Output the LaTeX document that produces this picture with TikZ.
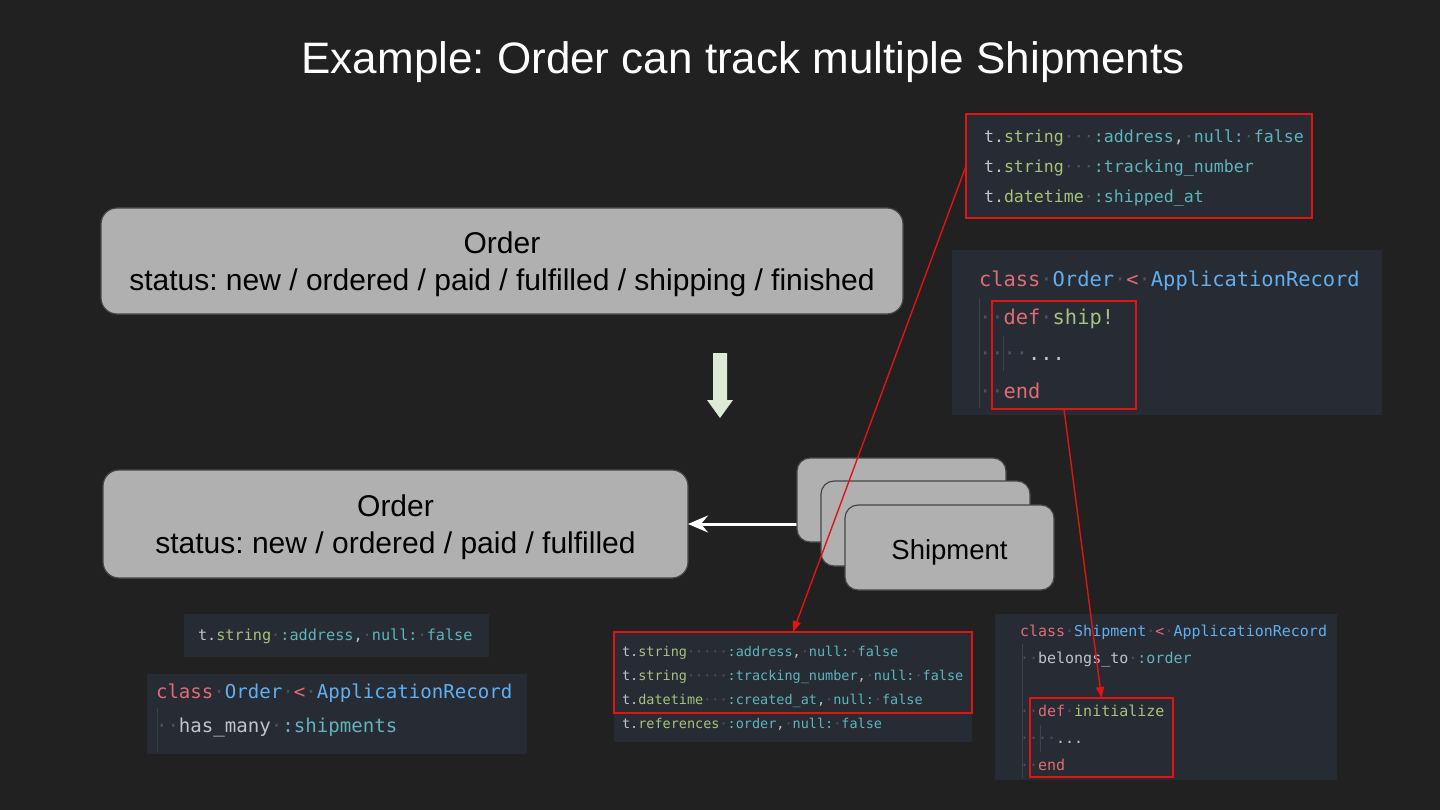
\documentclass[tikz,border=0pt]{standalone}
\usepackage{fontspec}
\setmainfont{Liberation Sans}
\setmonofont{DejaVu Sans Mono}
\usepackage{xcolor}
\usepackage{tikz}
\usetikzlibrary{arrows.meta, positioning}
\frenchspacing

\definecolor{slidebg}{RGB}{33,33,33}
\definecolor{codefill}{RGB}{39,43,51}
\definecolor{boxgray}{RGB}{176,176,176}
\definecolor{boxline}{RGB}{70,70,70}
\definecolor{markred}{RGB}{225,20,20}
\definecolor{arrowgreen}{RGB}{221,235,214}
\definecolor{kwred}{RGB}{224,108,117}
\definecolor{clsblue}{RGB}{97,175,239}
\definecolor{fngreen}{RGB}{165,195,125}
\definecolor{symteal}{RGB}{95,180,190}
\definecolor{plaingray}{RGB}{190,196,206}
\definecolor{wsdot}{RGB}{75,82,95}
\definecolor{guidegray}{RGB}{60,65,75}

\newcommand{\ckw}[1]{\textcolor{kwred}{#1}}
\newcommand{\ccls}[1]{\textcolor{clsblue}{#1}}
\newcommand{\cfn}[1]{\textcolor{fngreen}{#1}}
\newcommand{\csym}[1]{\textcolor{symteal}{#1}}
\newcommand{\cpl}[1]{\textcolor{plaingray}{#1}}
\newcommand{\cws}{\textcolor{wsdot}{·}}

\tikzset{
  orderbox/.style={rectangle, rounded corners=16pt, fill=boxgray, draw=boxline, line width=1.2pt,
    inner sep=0pt, outer sep=0pt},
  shipbox/.style={orderbox, rounded corners=13pt, minimum width=209pt, minimum height=85pt},
  boxtext/.style={align=center, text=black, inner sep=0pt, font=\fontsize{30}{37}\selectfont},
  codebg/.style={rectangle, fill=codefill, inner sep=0pt, outer sep=0pt, anchor=north west},
  markbox/.style={rectangle, draw=markred, line width=1.6pt, inner sep=0pt, outer sep=0pt, anchor=north west},
  codeline/.style={anchor=base west, inner sep=0pt, outer sep=0pt, text=plaingray},
  guideline/.style={draw=guidegray, line width=1pt},
  redlink/.style={draw=markred, line width=1.4pt, -{Triangle[length=11pt, width=8pt]}}
}

\begin{document}
\begin{tikzpicture}[x=1pt, y=-1pt]
  \fill[slidebg] (0,0) rectangle (1440,810);
  \useasboundingbox (0,0) rectangle (1440,810);

  \node[text=white, font=\fontsize{44}{50}\selectfont] (title) at (743,62) {Example: Order can track multiple Shipments};

  \node[orderbox, minimum width=802pt, minimum height=106pt] (orderTop) at (502,261) {};
  \node[boxtext, yshift=-3.5pt] (orderTopText) at (orderTop)
    {Order\\status: new / ordered / paid / fulfilled / shipping / finished};
  \node[orderbox, minimum width=585pt, minimum height=108pt] (orderBot) at (395.5,524) {};
  \node[boxtext, yshift=-3.5pt] (orderBotText) at (orderBot)
    {Order\\status: new / ordered / paid / fulfilled};

  \fill[arrowgreen] (713,353) -- (727,353) -- (727,400) -- (733,400) -- (720,418) -- (707,400) -- (713,400) -- cycle;

  \draw[white, line width=3pt, -{Stealth[length=20pt, width=17pt, inset=7pt]}] (797,524) -- (orderBot.east);
  \node[shipbox, minimum height=84pt] (shipA) at (901.5,500) {};
  \node[shipbox] (shipB) at (925.5,523.5) {};
  \node[shipbox] (shipC) at (949.5,547.5) {};
  \node[boxtext, font=\fontsize{27.5}{33}\selectfont, yshift=-4.5pt] (shipCText) at (shipC) {Shipment};

  % shipments table
  \node[codebg, minimum width=346pt, minimum height=104pt] (bgShipCols) at (966,114) {};
  \node[codeline, font=\ttfamily\fontsize{16.6}{20}\selectfont] (colsA) at (984,143)
    {t.\cfn{string}\cws\cws\cws\csym{:address},\cws\csym{null:}\cws\csym{false}};
  \node[codeline, font=\ttfamily\fontsize{16.6}{20}\selectfont] (colsB) at (984,173)
    {t.\cfn{string}\cws\cws\cws\csym{:tracking\_number}};
  \node[codeline, font=\ttfamily\fontsize{16.6}{20}\selectfont] (colsC) at (984,203)
    {t.\cfn{datetime}\cws\csym{:shipped\_at}};
  \node[markbox, minimum width=346pt, minimum height=104pt] (markCols) at (966,114) {};

  % Order#ship!
  \node[codebg, minimum width=430pt, minimum height=165pt] (bgOrderShip) at (952,250) {};
  \draw[guideline] (979,298) -- (979,408);
  \draw[guideline] (1003,336) -- (1003,371);
  \node[codeline, font=\ttfamily\fontsize{20.4}{24}\selectfont] (shipA1) at (979,287)
    {\ckw{class}\cws\ccls{Order}\cws\ckw{<}\cws\ccls{ApplicationRecord}};
  \node[codeline, font=\ttfamily\fontsize{20.4}{24}\selectfont] (shipA2) at (979,324)
    {\cws\cws\ckw{def}\cws\cfn{ship!}};
  \node[codeline, font=\ttfamily\fontsize{20.4}{24}\selectfont] (shipA3) at (979,360)
    {\cws\cws\cws\cws...};
  \node[codeline, font=\ttfamily\fontsize{20.4}{24}\selectfont] (shipA4) at (979,398)
    {\cws\cws\ckw{end}};
  \node[markbox, minimum width=144pt, minimum height=108pt] (markShip) at (992,301) {};

  % orders column
  \node[codebg, minimum width=305pt, minimum height=43pt] (bgOrderCol) at (184,614) {};
  \node[codeline, font=\ttfamily\fontsize{15.2}{18}\selectfont] (orderCol) at (198,640)
    {t.\cfn{string}\cws\csym{:address},\cws\csym{null:}\cws\csym{false}};

  % Order has_many
  \node[codebg, minimum width=380pt, minimum height=80pt] (bgOrderModel) at (147,674) {};
  \draw[guideline] (157,708) -- (157,752);
  \node[codeline, font=\ttfamily\fontsize{19.1}{23}\selectfont] (orderM1) at (156,698)
    {\ckw{class}\cws\ccls{Order}\cws\ckw{<}\cws\ccls{ApplicationRecord}};
  \node[codeline, font=\ttfamily\fontsize{19.1}{23}\selectfont] (orderM2) at (156,732)
    {\cws\cws has\_many\cws\csym{:shipments}};

  % shipments columns
  \node[codebg, minimum width=358pt, minimum height=110pt] (bgShipTable) at (614,632) {};
  \node[codeline, font=\ttfamily\fontsize{13.5}{16}\selectfont] (tabA) at (622,656)
    {t.\cfn{string}\cws\cws\cws\cws\cws\csym{:address},\cws\csym{null:}\cws\csym{false}};
  \node[codeline, font=\ttfamily\fontsize{13.5}{16}\selectfont] (tabB) at (622,680)
    {t.\cfn{string}\cws\cws\cws\cws\cws\csym{:tracking\_number},\cws\csym{null:}\cws\csym{false}};
  \node[codeline, font=\ttfamily\fontsize{13.5}{16}\selectfont] (tabC) at (622,704)
    {t.\cfn{datetime}\cws\cws\cws\csym{:created\_at},\cws\csym{null:}\cws\csym{false}};
  \node[codeline, font=\ttfamily\fontsize{13.5}{16}\selectfont] (tabD) at (622,728)
    {t.\cfn{references}\cws\csym{:order},\cws\csym{null:}\cws\csym{false}};
  \node[markbox, minimum width=358pt, minimum height=81pt] (markTable) at (614,632) {};

  % Shipment model
  \node[codebg, minimum width=342pt, minimum height=166pt] (bgShipModel) at (995,614) {};
  \draw[guideline] (1022,644) -- (1022,778);
  \draw[guideline] (1040,725) -- (1040,752);
  \node[codeline, font=\ttfamily\fontsize{15}{18}\selectfont] (shipM1) at (1020,636)
    {\ckw{class}\cws\ccls{Shipment}\cws\ckw{<}\cws\ccls{ApplicationRecord}};
  \node[codeline, font=\ttfamily\fontsize{15}{18}\selectfont] (shipM2) at (1020,663)
    {\cws\cws belongs\_to\cws\csym{:order}};
  \node[codeline, font=\ttfamily\fontsize{15}{18}\selectfont] (shipM3) at (1020,716)
    {\cws\cws\ckw{def}\cws\cfn{initialize}};
  \node[codeline, font=\ttfamily\fontsize{15}{18}\selectfont] (shipM4) at (1020,743)
    {\cws\cws\cws\cws...};
  \node[codeline, font=\ttfamily\fontsize{15}{18}\selectfont] (shipM5) at (1020,770)
    {\cws\cws\ckw{end}};
  \node[markbox, minimum width=143pt, minimum height=79pt] (markInit) at (1030,698) {};

  \draw[redlink] (markCols.west) -- (markTable.north);
  \draw[redlink] (markShip.south) -- (markInit.north);
\end{tikzpicture}
\end{document}
